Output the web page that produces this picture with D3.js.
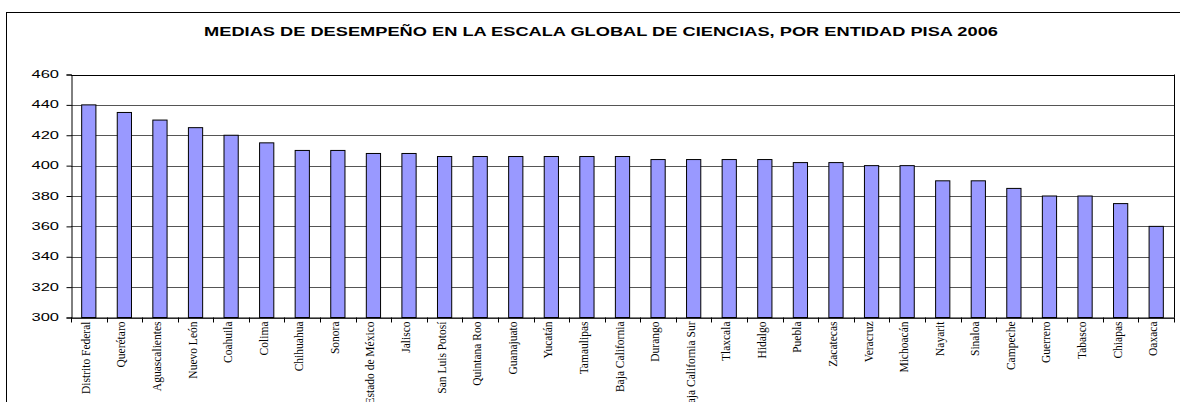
<!DOCTYPE html>
<html>
<head>
<meta charset="utf-8">
<script src="https://cdn.jsdelivr.net/npm/d3@7"></script>
<style>
  body { margin: 0; background: #fff; }
</style>
</head>
<body>
<script>
var w = 1180;
var h = 402;

var entidades = ["Distrito Federal", "Querétaro", "Aguascalientes", "Nuevo León", "Coahuila", "Colima",
    "Chihuahua", "Sonora", "Estado de México", "Jalisco", "San Luis Potosí", "Quintana Roo", "Guanajuato",
    "Yucatán", "Tamaulipas", "Baja California", "Durango", "Baja California Sur", "Tlaxcala", "Hidalgo",
    "Puebla", "Zacatecas", "Veracruz", "Michoacán", "Nayarit", "Sinaloa", "Campeche", "Guerrero",
    "Tabasco", "Chiapas", "Oaxaca"];
var medias = [440, 435, 430, 425, 420, 415, 410, 410, 408, 408, 406, 406, 406, 406, 406, 406,
    404, 404, 404, 404, 402, 402, 400, 400, 390, 390, 385, 380, 380, 375, 360];
var yTicks = [300, 320, 340, 360, 380, 400, 420, 440, 460];
var titulo = "MEDIAS DE DESEMPEÑO EN LA ESCALA GLOBAL DE CIENCIAS, POR ENTIDAD PISA 2006";

var plotL = 71, plotR = 1174, plotT = 74.5, plotB = 317.5;

var svg = d3.select("body").append("svg")
    .attr("width", w)
    .attr("height", h);

// outer chart frame
svg.append("rect")
    .attr("x", 6.5).attr("y", 12.5)
    .attr("width", 1200).attr("height", 500)
    .attr("fill", "none")
    .attr("stroke", "#000")
    .attr("stroke-width", 1);

var x = d3.scaleBand()
    .domain(entidades)
    .range([plotL, plotR])
    .paddingInner(0.6)
    .paddingOuter(0.3);

var y = d3.scaleLinear()
    .domain([300, 460])
    .range([plotB, plotT]);

// title
svg.append("text")
    .attr("x", 0).attr("y", 0)
    .attr("text-anchor", "middle")
    .attr("transform", "translate(601,35.5) scale(1.46,1)")
    .style("font-family", "Liberation Sans, Arial, sans-serif")
    .style("font-weight", "bold")
    .style("font-size", "12.5px")
    .text(titulo);

// gridlines
svg.selectAll(".grid")
    .data(yTicks)
    .enter()
    .append("line")
    .attr("class", "grid")
    .attr("x1", plotL).attr("x2", plotR)
    .attr("y1", function(d){ return Math.round(y(d)) + 0.5; })
    .attr("y2", function(d){ return Math.round(y(d)) + 0.5; })
    .attr("stroke", function(d){ return d == 460 ? "#000" : "#555"; })
    .attr("stroke-width", 1);

// right border of plot
svg.append("line")
    .attr("x1", plotR + 0.5).attr("x2", plotR + 0.5)
    .attr("y1", plotT).attr("y2", plotB)
    .attr("stroke", "#000");

// bars
svg.selectAll(".bar")
    .data(medias)
    .enter()
    .append("rect")
    .attr("class", "bar")
    .attr("x", function(d, i){ return x(entidades[i]); })
    .attr("width", x.bandwidth())
    .attr("y", function(d){ return y(d); })
    .attr("height", function(d){ return y(300) - y(d); })
    .attr("fill", "#9999ff")
    .attr("stroke", "#000")
    .attr("stroke-width", 1);

// y axis
var yAxis = svg.append("g")
    .attr("transform", "translate(" + (plotL + 0.5) + ",0)")
    .call(d3.axisLeft(y).tickValues(yTicks).tickSize(5).tickPadding(0).tickFormat(function(){ return ""; }));
yAxis.select(".domain").attr("stroke", "#000");
yAxis.selectAll(".tick line").attr("stroke", "#000");

svg.selectAll(".ylab")
    .data(yTicks)
    .enter()
    .append("text")
    .attr("class", "ylab")
    .attr("text-anchor", "end")
    .attr("transform", function(d){ return "translate(59," + (y(d) + 3.6) + ") scale(1.65,1)"; })
    .style("font-family", "Liberation Sans, Arial, sans-serif")
    .style("font-size", "10px")
    .attr("fill", "#000")
    .text(function(d){ return d; });

// x axis with ticks at category boundaries
var bounds = d3.range(entidades.length + 1).map(function(i){ return plotL + i * (plotR - plotL) / entidades.length; });
svg.append("line")
    .attr("x1", plotL).attr("x2", plotR + 1)
    .attr("y1", plotB + 0.5).attr("y2", plotB + 0.5)
    .attr("stroke", "#000");
svg.selectAll(".xtick")
    .data(bounds)
    .enter()
    .append("line")
    .attr("class", "xtick")
    .attr("x1", function(d){ return Math.round(d) + 0.5; })
    .attr("x2", function(d){ return Math.round(d) + 0.5; })
    .attr("y1", plotB).attr("y2", plotB + 5)
    .attr("stroke", "#000");

// x labels
svg.selectAll(".xlab")
    .data(entidades)
    .enter()
    .append("text")
    .attr("class", "xlab")
    .attr("text-anchor", "end")
    .attr("transform", function(d){
        return "translate(" + (x(d) + x.bandwidth() / 2 + 1) + "," + (plotB + 4) + ") rotate(-90)";
    })
    .style("font-family", "Liberation Serif, Times New Roman, serif")
    .style("font-size", "11.5px")
    .attr("fill", "#000")
    .text(function(d){ return d; });
</script>
</body>
</html>
